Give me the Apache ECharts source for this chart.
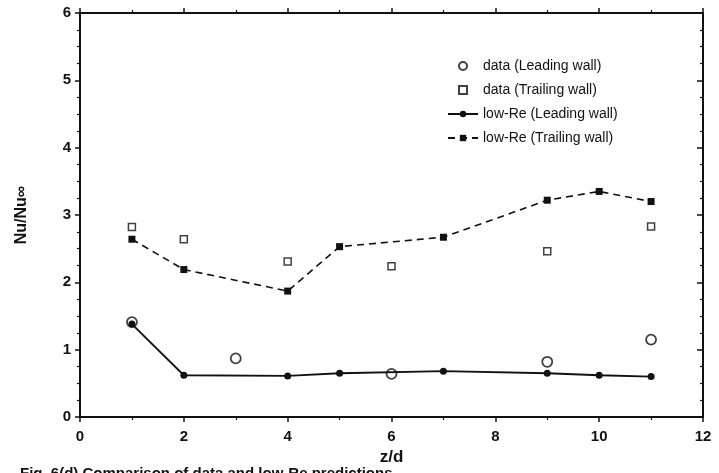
<!DOCTYPE html>
<html>
<head>
<meta charset="utf-8">
<script src="https://cdn.jsdelivr.net/npm/echarts@6/dist/echarts.min.js"></script>
<style>
  html, body { margin: 0; padding: 0; background: #fff; }
  #chart { width: 719px; height: 473px; }
</style>
</head>
<body>
<div id="chart"></div>
<script>
// Axial station z/d
const zModel = [1, 2, 4, 5, 7, 9, 10, 11];

// Measured Nu/Nu∞
const dataLeadingX = [1, 3, 6, 9, 11];
const dataLeading = [1.41, 0.87, 0.64, 0.82, 1.15];
const dataTrailingX = [1, 2, 4, 6, 9, 11];
const dataTrailing = [2.82, 2.64, 2.31, 2.24, 2.46, 2.83];

// low-Re model predictions
const lowReLeading = [1.38, 0.62, 0.61, 0.65, 0.68, 0.65, 0.62, 0.60];
const lowReTrailing = [2.64, 2.19, 1.87, 2.53, 2.67, 3.22, 3.35, 3.20];

const xTicks = [0, 2, 4, 6, 8, 10, 12];
const yTicks = [0, 1, 2, 3, 4, 5, 6];

const pair = (xs, ys) => xs.map((x, i) => [x, ys[i]]);

const font = 'Liberation Sans, Arial, sans-serif';
const black = '#111';
const axisLine = { show: true, onZero: false, lineStyle: { color: black, width: 2 } };
// square outline kept square inside the legend box
const squareIcon = 'path://M0,0H10V10H0Z';

const chart = echarts.init(document.getElementById('chart'));
chart.setOption({
  animation: false,
  backgroundColor: '#fff',
  grid: { left: 80, right: 16, top: 13, bottom: 56 },
  xAxis: [
    {
      type: 'value', position: 'bottom', min: xTicks[0], max: xTicks[xTicks.length - 1], interval: 2,
      name: 'z/d', nameLocation: 'middle', nameGap: 32,
      nameTextStyle: { fontFamily: font, fontSize: 17, fontWeight: 'bold', color: black },
      axisLine, splitLine: { show: false },
      axisTick: { length: 5, lineStyle: { color: black, width: 1.5 } },
      minorTick: { show: true, splitNumber: 2, length: 3, lineStyle: { color: black, width: 1.2 } },
      axisLabel: { fontFamily: font, fontSize: 15, fontWeight: 'bold', color: black, margin: 12 }
    },
    {
      type: 'value', position: 'top', min: 0, max: 12, interval: 2,
      axisLine, splitLine: { show: false }, axisLabel: { show: false },
      axisTick: { length: 5, lineStyle: { color: black, width: 1.5 } },
      minorTick: { show: true, splitNumber: 2, length: 3, lineStyle: { color: black, width: 1.2 } }
    }
  ],
  yAxis: [
    {
      type: 'value', position: 'left', min: yTicks[0], max: yTicks[yTicks.length - 1], interval: 1,
      name: 'Nu/Nu∞', nameLocation: 'middle', nameGap: 50, nameRotate: 90,
      nameTextStyle: { fontFamily: font, fontSize: 16, fontWeight: 'bold', color: black },
      axisLine, splitLine: { show: false },
      axisTick: { length: 5, lineStyle: { color: black, width: 1.5 } },
      minorTick: { show: true, splitNumber: 4, length: 3, lineStyle: { color: black, width: 1.2 } },
      axisLabel: { fontFamily: font, fontSize: 15, fontWeight: 'bold', color: black, margin: 9 }
    },
    {
      type: 'value', position: 'right', min: 0, max: 6, interval: 1,
      axisLine, splitLine: { show: false }, axisLabel: { show: false },
      axisTick: { inside: true, length: 6, lineStyle: { color: black, width: 1.5 } },
      minorTick: { show: true, splitNumber: 4, length: 3, lineStyle: { color: black, width: 1.2 } }
    }
  ],
  legend: {
    orient: 'vertical', left: 442, top: 54, itemGap: 10,
    itemWidth: 30, itemHeight: 8,
    textStyle: { fontFamily: font, fontSize: 14, color: black },
    data: ['data (Leading wall)', 'data (Trailing wall)', 'low-Re (Leading wall)', 'low-Re (Trailing wall)']
  },
  series: [
    {
      name: 'data (Leading wall)', type: 'scatter', data: pair(dataLeadingX, dataLeading),
      symbol: 'circle', symbolSize: 10,
      itemStyle: { color: '#fff', borderColor: black, borderWidth: 1.8 }, z: 3
    },
    {
      name: 'data (Trailing wall)', type: 'scatter', data: pair(dataTrailingX, dataTrailing),
      symbol: squareIcon, symbolSize: 7, symbolKeepAspect: true,
      itemStyle: { color: '#fff', borderColor: black, borderWidth: 1.5 }, z: 3
    },
    {
      name: 'low-Re (Leading wall)', type: 'line', data: pair(zModel, lowReLeading),
      symbol: 'circle', symbolSize: 7, showAllSymbol: true,
      lineStyle: { color: black, width: 1.8 },
      itemStyle: { color: black, borderColor: black, borderWidth: 0 }, z: 4
    },
    {
      name: 'low-Re (Trailing wall)', type: 'line', data: pair(zModel, lowReTrailing),
      symbol: 'rect', symbolSize: 7, showAllSymbol: true,
      lineStyle: { color: black, width: 1.6, type: [7, 5] },
      itemStyle: { color: black, borderColor: black, borderWidth: 0 }, z: 4
    }
  ],
  graphic: [
    {
      type: 'text', left: 20, top: 466,
      style: { text: 'Fig. 6(d) Comparison of data and low-Re predictions', font: 'bold 15px ' + font, fill: black }
    }
  ]
});
</script>
</body>
</html>
